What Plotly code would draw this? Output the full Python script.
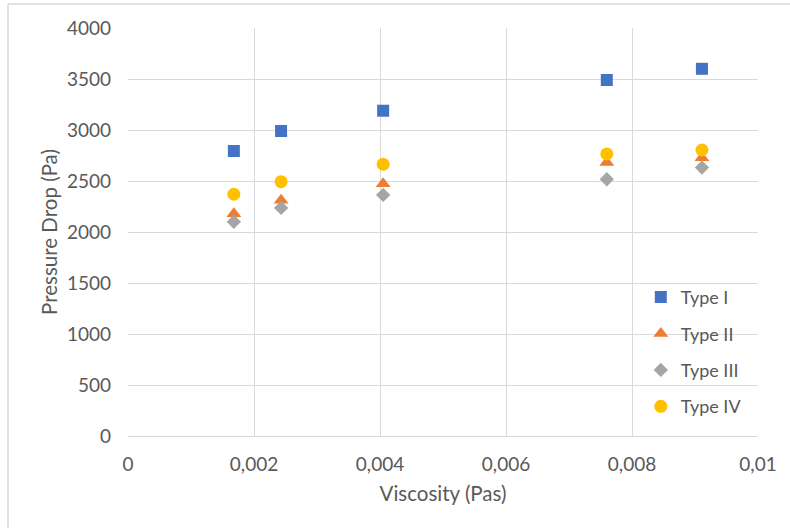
import plotly.graph_objects as go

viscosity = [0.00168, 0.00243, 0.00405, 0.0076, 0.00911]
type_i = [2794, 2990, 3189, 3490, 3600]
type_ii = [2178, 2312, 2472, 2682, 2728]
type_iii = [2100, 2236, 2363, 2517, 2632]
type_iv = [2370, 2493, 2664, 2765, 2804]

series_names = ["Type I", "Type II", "Type III", "Type IV"]
x_tickvals = [0, 0.002, 0.004, 0.006, 0.008, 0.01]
x_ticktext = ["0", "0,002", "0,004", "0,006", "0,008", "0,01"]
y_tickvals = [0, 500, 1000, 1500, 2000, 2500, 3000, 3500, 4000]

FONT = "Lato"
TXT = "#595959"
GRID = "#d9d9d9"

styles = [
    dict(symbol="square", color="#4472C4", size=12),
    dict(symbol="triangle-up", color="#ED7D31", size=13),
    dict(symbol="diamond", color="#A5A5A5", size=11),
    dict(symbol="circle", color="#FFC000", size=13),
]

fig = go.Figure()
for name, ys, st in zip(series_names, [type_i, type_ii, type_iii, type_iv], styles):
    fig.add_trace(go.Scatter(
        x=viscosity, y=ys, mode="markers", name=name, legendgroup=name,
        marker=dict(symbol=st["symbol"], color=st["color"], size=st["size"],
                    line=dict(width=0)),
    ))

fig.update_layout(
    width=790, height=528,
    margin=dict(l=128, r=32, t=28, b=92, pad=0),
    paper_bgcolor="white", plot_bgcolor="white",
    font=dict(family=FONT, color=TXT, size=18),
    separators=", ",
    showlegend=True,
    legend=dict(
        x=0.814, y=0.385, xanchor="left", yanchor="top",
        bgcolor="rgba(0,0,0,0)", font=dict(family=FONT, size=18, color=TXT),
        traceorder="grouped", tracegroupgap=10, itemwidth=30,
    ),
    xaxis=dict(
        range=[0, 0.01], tickvals=x_tickvals, ticktext=x_ticktext,
        showgrid=True, gridcolor=GRID, gridwidth=1,
        showline=True, linecolor=GRID, linewidth=1, mirror=False,
        zeroline=False, ticks="", ticklabelstandoff=11,
        tickfont=dict(family=FONT, size=19, color=TXT),
        title=dict(text="Viscosity (Pas)", font=dict(family=FONT, size=20.5, color=TXT), standoff=12),
    ),
    yaxis=dict(
        range=[0, 4000], tickvals=y_tickvals,
        showgrid=True, gridcolor=GRID, gridwidth=1,
        showline=False, zeroline=False, ticks="", ticklabelstandoff=16,
        tickfont=dict(family=FONT, size=19, color=TXT),
        title=dict(text="Pressure Drop (Pa)", font=dict(family=FONT, size=20.5, color=TXT), standoff=3),
    ),
    shapes=[
        dict(type="line", xref="paper", yref="paper",
             x0=(8 - 128) / 630, x1=(8 - 128) / 630, y0=(436 - 528) / 408, y1=(436 - 4) / 408,
             line=dict(color=GRID, width=1.5)),
        dict(type="line", xref="paper", yref="paper",
             x0=(8 - 128) / 630, x1=(790 - 128) / 630, y0=(436 - 4) / 408, y1=(436 - 4) / 408,
             line=dict(color=GRID, width=1.5)),
    ],
)

fig.write_html("out.html")
